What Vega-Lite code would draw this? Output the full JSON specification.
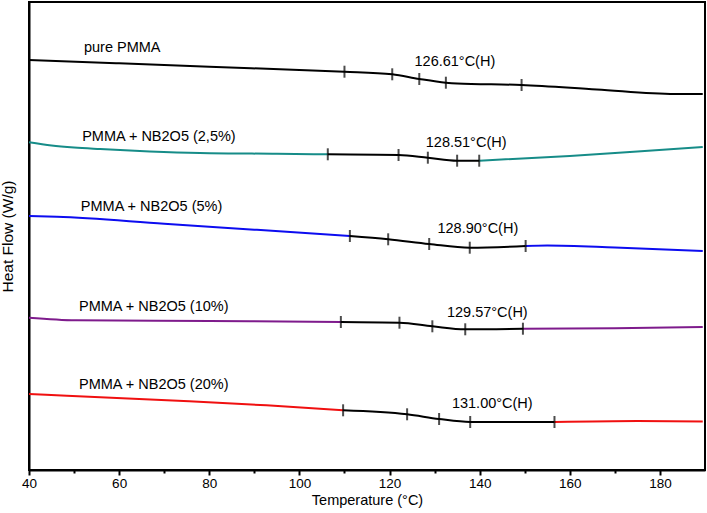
{
  "$schema": "https://vega.github.io/schema/vega-lite/v6.json",
  "width": 676,
  "height": 468,
  "autosize": "none",
  "padding": {"left": 29, "top": 2, "right": 2, "bottom": 43},
  "config": {
    "font": "Liberation Sans",
    "view": {"stroke": "#000000", "strokeWidth": 2},
    "axis": {"domainColor": "#000000", "domainWidth": 2, "tickColor": "#000000", "tickWidth": 2, "labelColor": "#000000", "titleColor": "#000000", "grid": false, "labelFont": "Liberation Sans", "titleFont": "Liberation Sans", "titleFontWeight": "normal"}
  },
  "datasets": {
    "curves": [
      {"part": "a", "trace": "pure PMMA", "T": 40, "hf": 410},
      {"part": "a", "trace": "pure PMMA", "T": 60, "hf": 406.7},
      {"part": "a", "trace": "pure PMMA", "T": 80, "hf": 403.3},
      {"part": "a", "trace": "pure PMMA", "T": 100, "hf": 400},
      {"part": "a", "trace": "pure PMMA", "T": 110, "hf": 398.3},
      {"part": "a", "trace": "pure PMMA", "T": 120.6, "hf": 395.7},
      {"part": "a", "trace": "pure PMMA", "T": 126.6, "hf": 391},
      {"part": "a", "trace": "pure PMMA", "T": 132.5, "hf": 387.3},
      {"part": "a", "trace": "pure PMMA", "T": 135, "hf": 386.5},
      {"part": "a", "trace": "pure PMMA", "T": 149.3, "hf": 385},
      {"part": "a", "trace": "pure PMMA", "T": 166, "hf": 380.5},
      {"part": "a", "trace": "pure PMMA", "T": 183.3, "hf": 376},
      {"part": "a", "trace": "pure PMMA", "T": 189.5, "hf": 376},

      {"part": "b1", "trace": "PMMA + NB2O5 (2,5%)", "T": 40, "hf": 327.7},
      {"part": "b1", "trace": "PMMA + NB2O5 (2,5%)", "T": 45, "hf": 324.5},
      {"part": "b1", "trace": "PMMA + NB2O5 (2,5%)", "T": 50, "hf": 322.5},
      {"part": "b1", "trace": "PMMA + NB2O5 (2,5%)", "T": 55.8, "hf": 321},
      {"part": "b1", "trace": "PMMA + NB2O5 (2,5%)", "T": 66.8, "hf": 318.6},
      {"part": "b1", "trace": "PMMA + NB2O5 (2,5%)", "T": 77.9, "hf": 317},
      {"part": "b1", "trace": "PMMA + NB2O5 (2,5%)", "T": 95, "hf": 316.2},
      {"part": "b1", "trace": "PMMA + NB2O5 (2,5%)", "T": 106.3, "hf": 315.7},
      {"part": "b2", "trace": "Tg analysis", "T": 106.3, "hf": 315.7},
      {"part": "b2", "trace": "Tg analysis", "T": 122, "hf": 315},
      {"part": "b2", "trace": "Tg analysis", "T": 128.5, "hf": 312.3},
      {"part": "b2", "trace": "Tg analysis", "T": 135, "hf": 309.3},
      {"part": "b2", "trace": "Tg analysis", "T": 139.9, "hf": 309.3},
      {"part": "b3", "trace": "PMMA + NB2O5 (2,5%)", "T": 139.9, "hf": 309.3},
      {"part": "b3", "trace": "PMMA + NB2O5 (2,5%)", "T": 160, "hf": 314},
      {"part": "b3", "trace": "PMMA + NB2O5 (2,5%)", "T": 175, "hf": 318.5},
      {"part": "b3", "trace": "PMMA + NB2O5 (2,5%)", "T": 189.5, "hf": 323},

      {"part": "c1", "trace": "PMMA + NB2O5 (5%)", "T": 40, "hf": 254},
      {"part": "c1", "trace": "PMMA + NB2O5 (5%)", "T": 46.2, "hf": 253.3},
      {"part": "c1", "trace": "PMMA + NB2O5 (5%)", "T": 70, "hf": 246.3},
      {"part": "c1", "trace": "PMMA + NB2O5 (5%)", "T": 90, "hf": 240.3},
      {"part": "c1", "trace": "PMMA + NB2O5 (5%)", "T": 111.2, "hf": 234},
      {"part": "c2", "trace": "Tg analysis", "T": 111.2, "hf": 234},
      {"part": "c2", "trace": "Tg analysis", "T": 119.7, "hf": 230.7},
      {"part": "c2", "trace": "Tg analysis", "T": 128.8, "hf": 226},
      {"part": "c2", "trace": "Tg analysis", "T": 137.8, "hf": 222.3},
      {"part": "c2", "trace": "Tg analysis", "T": 150.2, "hf": 224},
      {"part": "c3", "trace": "PMMA + NB2O5 (5%)", "T": 150.2, "hf": 224},
      {"part": "c3", "trace": "PMMA + NB2O5 (5%)", "T": 155, "hf": 224.5},
      {"part": "c3", "trace": "PMMA + NB2O5 (5%)", "T": 170, "hf": 222.5},
      {"part": "c3", "trace": "PMMA + NB2O5 (5%)", "T": 189.5, "hf": 219},

      {"part": "d1", "trace": "PMMA + NB2O5 (10%)", "T": 40, "hf": 152.3},
      {"part": "d1", "trace": "PMMA + NB2O5 (10%)", "T": 50.4, "hf": 149.7},
      {"part": "d1", "trace": "PMMA + NB2O5 (10%)", "T": 80, "hf": 149},
      {"part": "d1", "trace": "PMMA + NB2O5 (10%)", "T": 109.2, "hf": 148},
      {"part": "d2", "trace": "Tg analysis", "T": 109.2, "hf": 148},
      {"part": "d2", "trace": "Tg analysis", "T": 122.2, "hf": 147.3},
      {"part": "d2", "trace": "Tg analysis", "T": 129.5, "hf": 143.7},
      {"part": "d2", "trace": "Tg analysis", "T": 136.8, "hf": 140.7},
      {"part": "d2", "trace": "Tg analysis", "T": 149.6, "hf": 141.3},
      {"part": "d3", "trace": "PMMA + NB2O5 (10%)", "T": 149.6, "hf": 141.3},
      {"part": "d3", "trace": "PMMA + NB2O5 (10%)", "T": 170, "hf": 141.7},
      {"part": "d3", "trace": "PMMA + NB2O5 (10%)", "T": 189.5, "hf": 143},

      {"part": "e1", "trace": "PMMA + NB2O5 (20%)", "T": 40, "hf": 76},
      {"part": "e1", "trace": "PMMA + NB2O5 (20%)", "T": 48.4, "hf": 74.3},
      {"part": "e1", "trace": "PMMA + NB2O5 (20%)", "T": 70.6, "hf": 69.7},
      {"part": "e1", "trace": "PMMA + NB2O5 (20%)", "T": 92.7, "hf": 64.7},
      {"part": "e1", "trace": "PMMA + NB2O5 (20%)", "T": 109.7, "hf": 59.7},
      {"part": "e2", "trace": "Tg analysis", "T": 109.7, "hf": 59.7},
      {"part": "e2", "trace": "Tg analysis", "T": 123.9, "hf": 55.7},
      {"part": "e2", "trace": "Tg analysis", "T": 131, "hf": 51},
      {"part": "e2", "trace": "Tg analysis", "T": 137.9, "hf": 48},
      {"part": "e2", "trace": "Tg analysis", "T": 156.6, "hf": 48},
      {"part": "e3", "trace": "PMMA + NB2O5 (20%)", "T": 156.6, "hf": 48},
      {"part": "e3", "trace": "PMMA + NB2O5 (20%)", "T": 175, "hf": 49},
      {"part": "e3", "trace": "PMMA + NB2O5 (20%)", "T": 189.5, "hf": 48.5}
    ],
    "marks": [
      {"T": 110, "hf": 398.3}, {"T": 120.6, "hf": 395.7}, {"T": 126.6, "hf": 391}, {"T": 132.5, "hf": 387.3}, {"T": 149.3, "hf": 385},
      {"T": 106.3, "hf": 315.7}, {"T": 122, "hf": 315}, {"T": 128.5, "hf": 312.3}, {"T": 135, "hf": 309.3}, {"T": 139.9, "hf": 309.3},
      {"T": 111.2, "hf": 234}, {"T": 119.7, "hf": 230.7}, {"T": 128.8, "hf": 226}, {"T": 137.8, "hf": 222.3}, {"T": 150.2, "hf": 224},
      {"T": 109.2, "hf": 148}, {"T": 122.2, "hf": 147.3}, {"T": 129.5, "hf": 143.7}, {"T": 136.8, "hf": 140.7}, {"T": 149.6, "hf": 141.3},
      {"T": 109.7, "hf": 59.7}, {"T": 123.9, "hf": 55.7}, {"T": 131, "hf": 51}, {"T": 137.9, "hf": 48}, {"T": 156.6, "hf": 48}
    ],
    "names": [
      {"T": 52.2, "hf": 422, "label": "pure PMMA"},
      {"T": 51.8, "hf": 333.3, "label": "PMMA + NB2O5 (2,5%)"},
      {"T": 51.5, "hf": 263.3, "label": "PMMA + NB2O5 (5%)"},
      {"T": 51.1, "hf": 162.7, "label": "PMMA + NB2O5 (10%)"},
      {"T": 51.1, "hf": 85, "label": "PMMA + NB2O5 (20%)"}
    ],
    "tgs": [
      {"T": 134.5, "hf": 407.7, "label": "126.61°C(H)"},
      {"T": 137.0, "hf": 327.3, "label": "128.51°C(H)"},
      {"T": 139.6, "hf": 240.7, "label": "128.90°C(H)"},
      {"T": 141.7, "hf": 157.3, "label": "129.57°C(H)"},
      {"T": 142.8, "hf": 66, "label": "131.00°C(H)"}
    ]
  },
  "layer": [
    {
      "data": {"name": "curves"},
      "mark": {"type": "line", "strokeWidth": 2, "strokeJoin": "round", "interpolate": "monotone"},
      "encoding": {
        "x": {"field": "T", "type": "quantitative", "title": "Temperature (°C)",
          "scale": {"domain": [40, 190], "nice": false, "zero": false},
          "axis": {"values": [40, 50, 60, 70, 80, 90, 100, 110, 120, 130, 140, 150, 160, 170, 180],
            "labelExpr": "datum.value % 20 === 0 ? datum.label : ''",
            "tickSize": {"condition": {"test": "datum.value % 20 === 0", "value": 5}, "value": 3},
            "labelFontSize": 13.5, "labelPadding": 1, "titleFontSize": 14.5, "titlePadding": 4, "labelFlush": false, "labelOverlap": false}},
        "y": {"field": "hf", "type": "quantitative", "title": "Heat Flow (W/g)",
          "scale": {"domain": [0, 468], "nice": false, "zero": false},
          "axis": {"ticks": false, "labels": false, "titleFontSize": 15.5, "titlePadding": 14}},
        "color": {"field": "trace", "type": "nominal", "legend": null,
          "scale": {"domain": ["pure PMMA", "PMMA + NB2O5 (2,5%)", "PMMA + NB2O5 (5%)", "PMMA + NB2O5 (10%)", "PMMA + NB2O5 (20%)", "Tg analysis"],
            "range": ["#000000", "#168c88", "#0c0cf0", "#7e1b8c", "#f01010", "#000000"]}},
        "detail": {"field": "part", "type": "nominal"}
      }
    },
    {
      "data": {"name": "marks"},
      "mark": {"type": "tick", "orient": "vertical", "size": 12, "thickness": 2, "color": "#000000"},
      "encoding": {
        "x": {"field": "T", "type": "quantitative"},
        "y": {"field": "hf", "type": "quantitative"}
      }
    },
    {
      "data": {"name": "names"},
      "mark": {"type": "text", "align": "left", "baseline": "middle", "fontSize": 14.5, "color": "#000000", "font": "Liberation Sans"},
      "encoding": {
        "x": {"field": "T", "type": "quantitative"},
        "y": {"field": "hf", "type": "quantitative"},
        "text": {"field": "label"}
      }
    },
    {
      "data": {"name": "tgs"},
      "mark": {"type": "text", "align": "center", "baseline": "middle", "fontSize": 14.5, "color": "#000000", "font": "Liberation Sans"},
      "encoding": {
        "x": {"field": "T", "type": "quantitative"},
        "y": {"field": "hf", "type": "quantitative"},
        "text": {"field": "label"}
      }
    }
  ]
}
